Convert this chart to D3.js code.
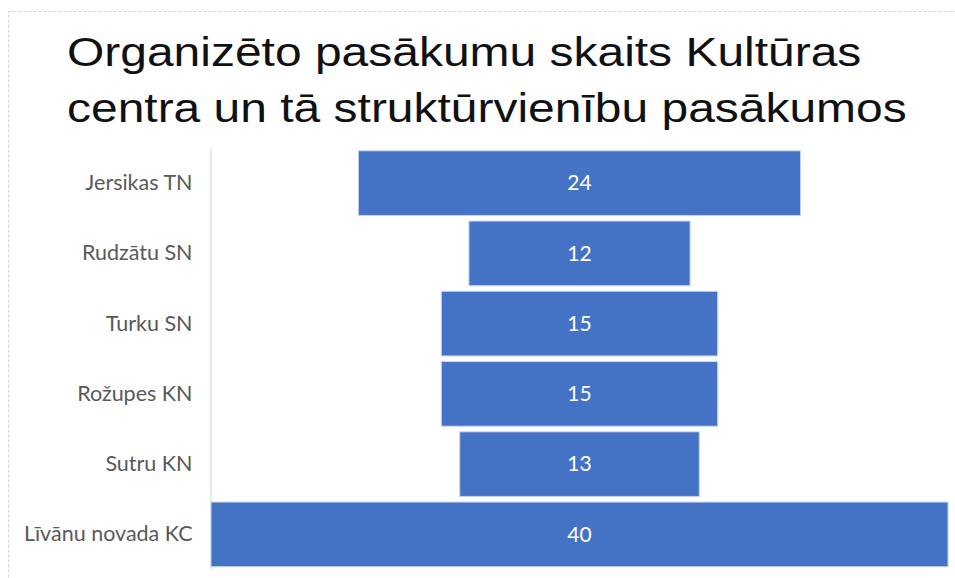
<!DOCTYPE html>
<html>
<head>
<meta charset="utf-8">
<script src="https://cdn.jsdelivr.net/npm/d3@7"></script>
<style>
  html, body { margin: 0; padding: 0; background: #fff; }
  svg { display: block; }
</style>
</head>
<body>
<svg id="chart" width="955" height="578"></svg>
<script>
const titleLines = ["Organizēto pasākumu skaits Kultūras", "centra un tā struktūrvienību pasākumos"];
const categories = ["Jersikas TN", "Rudzātu SN", "Turku SN", "Rožupes KN", "Sutru KN", "Līvānu novada KC"];
const values = [24, 12, 15, 15, 13, 40];

const svg = d3.select("#chart");
const W = 955, H = 578;

// frame (dashed light border)
svg.append("rect")
  .attr("x", 8.5).attr("y", 11.5)
  .attr("width", W + 20).attr("height", H + 20)
  .attr("fill", "none")
  .attr("stroke", "#d0d0d0")
  .attr("stroke-width", 1)
  .attr("stroke-dasharray", "3,2");

// title (reference glyphs are horizontally stretched)
const title = svg.append("text")
  .attr("font-family", "'Liberation Sans', Arial, sans-serif")
  .attr("font-size", 41)
  .attr("fill", "#111")
  .attr("transform", "translate(67,0) scale(1.17,1)");
titleLines.forEach((t, i) => {
  title.append("tspan").attr("x", 0).attr("y", 66 + i * 56).text(t);
});

const maxV = d3.max(values);
const x = d3.scaleLinear().domain([-maxV / 2, maxV / 2]).range([211, 948]);
const y = d3.scaleBand().domain(categories).range([148, 569.5])
  .paddingInner(0.08).paddingOuter(0.04);

// axis line
const yAxis = d3.axisLeft(y).tickSize(0).tickPadding(18);
const gAxis = svg.append("g").attr("transform", "translate(210.5,0)").call(yAxis);
gAxis.select(".domain").attr("stroke", "#d9d9d9").attr("stroke-width", 1.2);
gAxis.selectAll(".tick text")
  .attr("font-family", "Lato, 'Open Sans', sans-serif")
  .attr("font-size", 21.5)
  .attr("fill", "#595959");

// bars
svg.append("g").selectAll("rect")
  .data(categories)
  .join("rect")
  .attr("x", (d, i) => x(-values[i] / 2))
  .attr("y", d => y(d))
  .attr("width", (d, i) => x(values[i] / 2) - x(-values[i] / 2))
  .attr("height", y.bandwidth())
  .attr("fill", "#4472C4")
  .attr("stroke", "#c5d3ee")
  .attr("stroke-width", 1);

// data labels
svg.append("g").selectAll("text")
  .data(categories)
  .join("text")
  .attr("x", x(0))
  .attr("y", d => y(d) + y.bandwidth() / 2)
  .attr("dy", "0.35em")
  .attr("text-anchor", "middle")
  .attr("font-family", "Lato, 'Open Sans', sans-serif")
  .attr("font-size", 21)
  .attr("fill", "#fff")
  .text((d, i) => values[i]);
</script>
</body>
</html>
